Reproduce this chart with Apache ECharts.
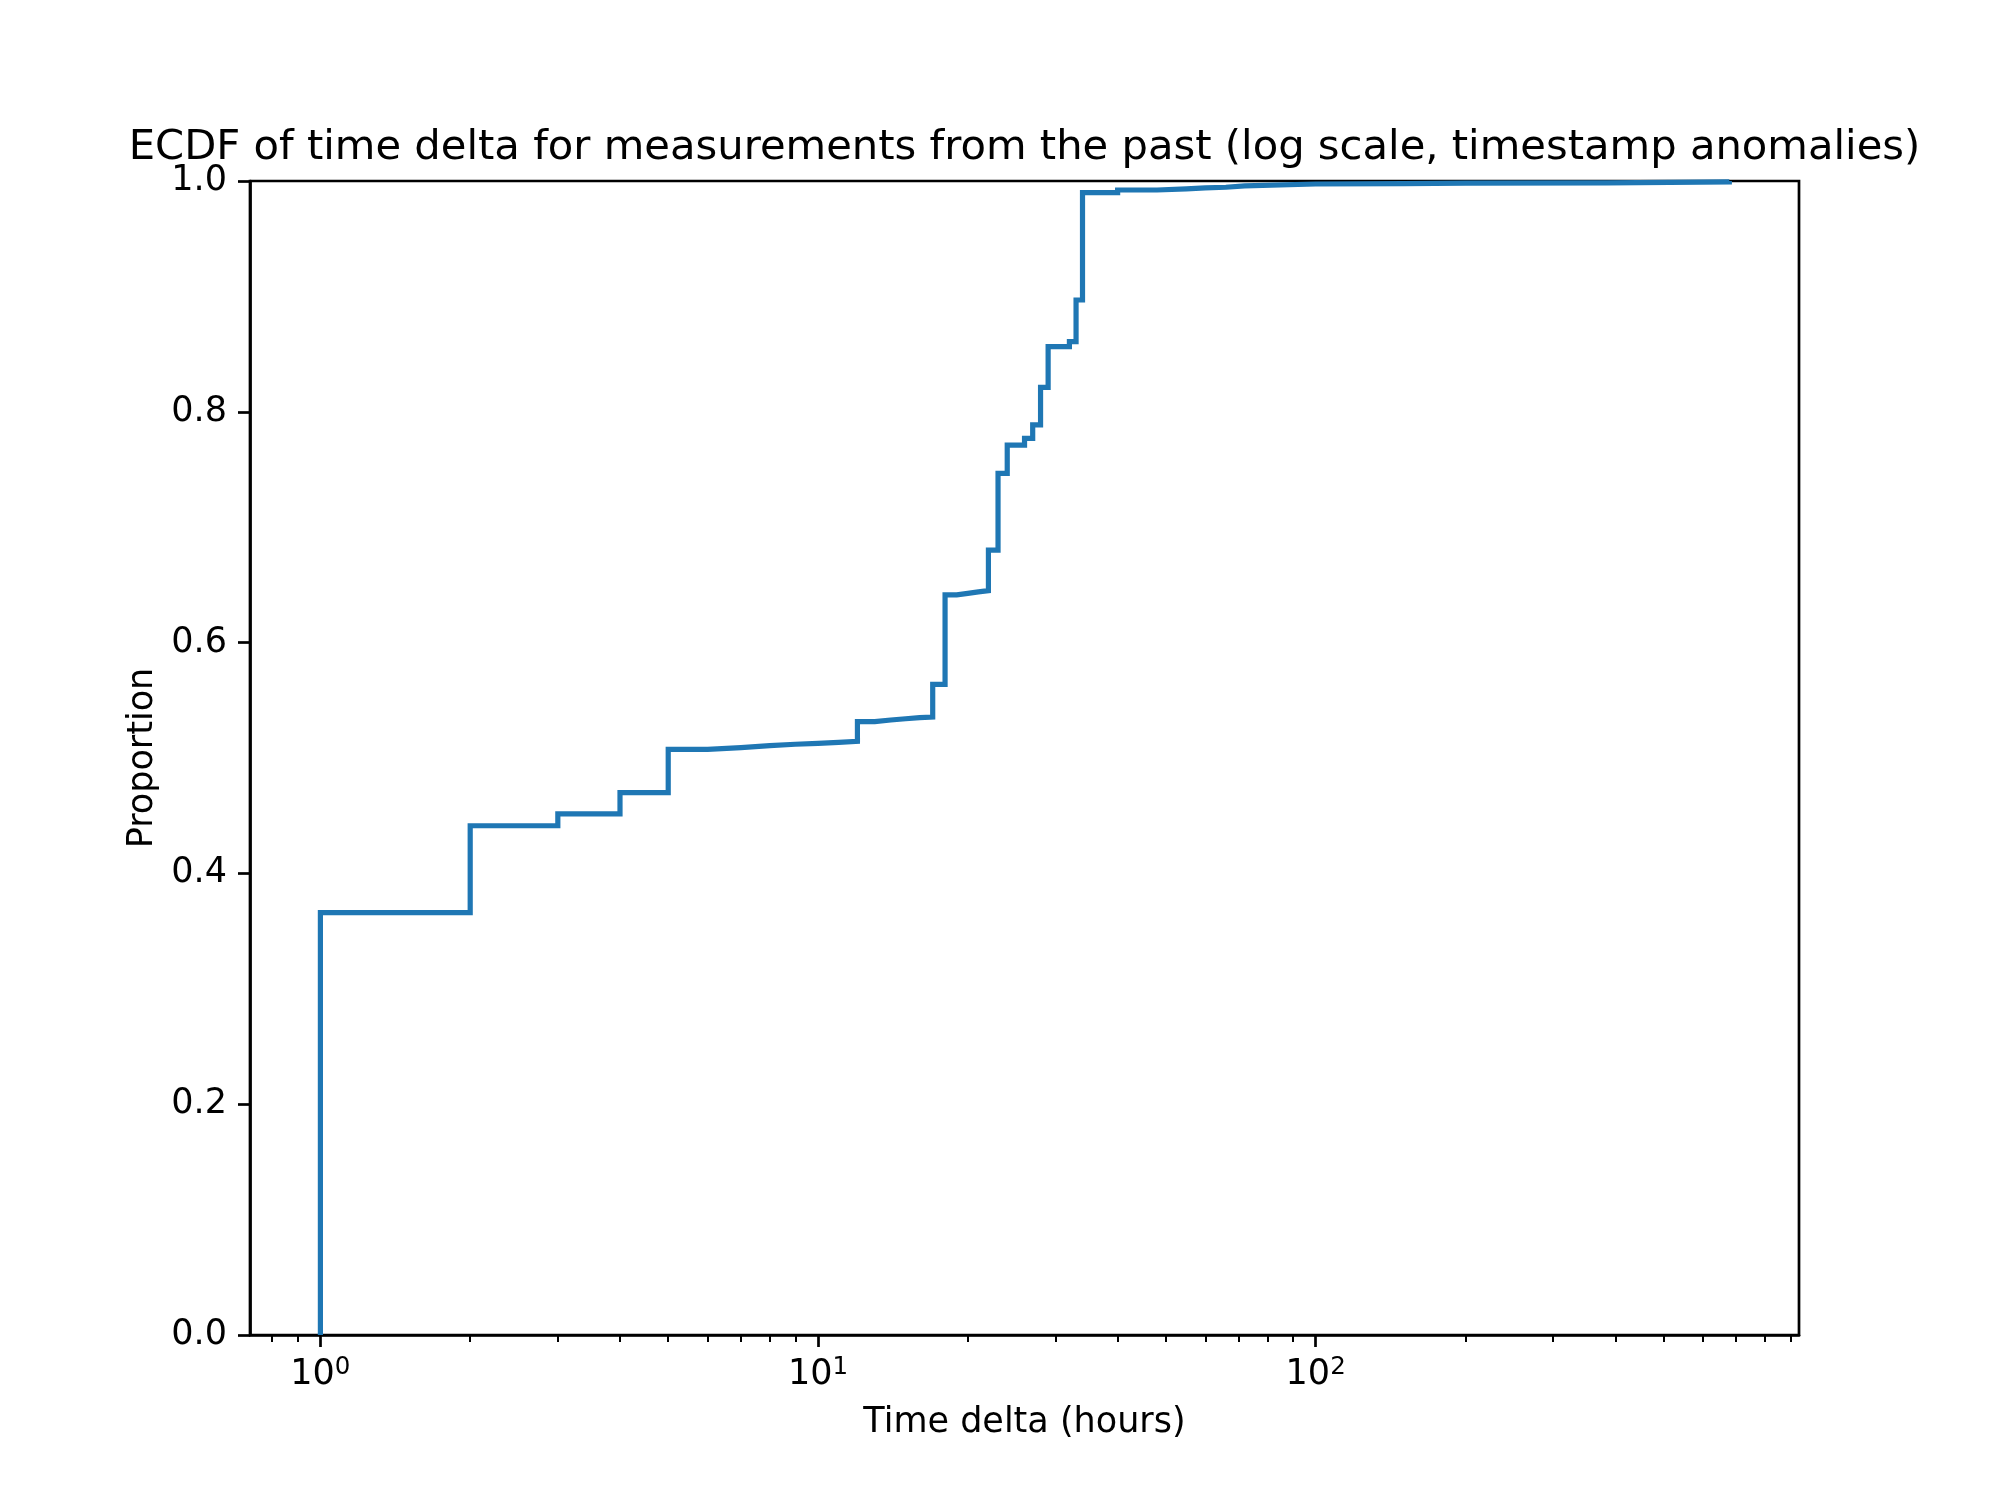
<!DOCTYPE html>
<html>
<head>
<meta charset="utf-8">
<script src="https://cdn.jsdelivr.net/npm/echarts@6/dist/echarts.min.js"></script>
<style>
  html, body { margin: 0; padding: 0; background: #ffffff; }
  #chart { width: 1999px; height: 1500px; }
</style>
</head>
<body>
<div id="chart"></div>
<script>
// ECDF step points: time delta (hours) and cumulative proportion
const timeDeltaHours = [1, 1, 2, 3, 4, 5, 6, 7, 8, 9, 10, 11, 12, 13, 14, 15, 16, 17, 18, 19, 20, 21, 22, 23, 24, 26, 27, 28, 29, 32, 33, 34, 40, 48, 55, 60, 66, 72, 100, 150, 200, 386, 678];
const proportion = [0, 0.366, 0.4413, 0.4515, 0.470, 0.5075, 0.509, 0.5107, 0.5119, 0.5127, 0.5136, 0.5144, 0.5315, 0.5329, 0.534, 0.535, 0.5355, 0.5638, 0.6413, 0.6427, 0.644, 0.645, 0.6802, 0.7467, 0.7712, 0.777, 0.7886, 0.8212, 0.8564, 0.8608, 0.8969, 0.9899, 0.9922, 0.9932, 0.9940, 0.9946, 0.9957, 0.9974, 0.9978, 0.9981, 0.9984, 0.9993, 1.0];

const xMajorTicks = [1, 10, 100];
const xMinorTicks = [0.8, 0.9, 2, 3, 4, 5, 6, 7, 8, 9, 20, 30, 40, 50, 60, 70, 80, 90, 200, 300, 400, 500, 600, 700, 800, 900];
const yTicks = [0, 0.2, 0.4, 0.6, 0.8, 1.0];
const xRange = [0.722, 936];

const titleText = 'ECDF of time delta for measurements from the past (log scale, timestamp anomalies)';
const xAxisTitle = 'Time delta (hours)';
const yAxisTitle = 'Proportion';

const FONT = 'DejaVu Sans';
const data = timeDeltaHours.map((x, i) => [x, proportion[i]]);

const chart = echarts.init(document.getElementById('chart'), null, { renderer: 'canvas' });
chart.setOption({
  backgroundColor: '#ffffff',
  animation: false,
  title: {
    text: titleText,
    left: 1024.5,
    top: 127,
    padding: 0,
    textAlign: 'center',
    textStyle: { fontFamily: FONT, fontSize: 41.7, fontWeight: 'normal', color: '#000' }
  },
  grid: {
    left: 250, right: 200, top: 181, bottom: 165,
    show: true, borderColor: '#000', borderWidth: 2.7, backgroundColor: 'transparent',
    containLabel: false
  },
  xAxis: [
    {
      type: 'log', logBase: 10, min: xRange[0], max: xRange[1],
      name: xAxisTitle, nameLocation: 'middle', nameGap: 70,
      nameTextStyle: { fontFamily: FONT, fontSize: 35, color: '#000' },
      axisLine: { show: true, lineStyle: { color: '#000', width: 2.7 } },
      axisTick: { show: true, customValues: xMajorTicks, length: 12, lineStyle: { color: '#000', width: 2.7 } },
      axisLabel: {
        show: true, customValues: xMajorTicks, margin: 20,
        formatter: function (v) { return '{base|10}{sup|' + Math.round(Math.log10(v)) + '}'; },
        rich: {
          base: { fontFamily: FONT, fontSize: 35, color: '#000', lineHeight: 40 },
          sup: { fontFamily: FONT, fontSize: 24.5, color: '#000', lineHeight: 22, verticalAlign: 'top' }
        }
      },
      splitLine: { show: false }
    },
    {
      type: 'log', logBase: 10, min: xRange[0], max: xRange[1], position: 'bottom',
      axisLine: { show: false },
      axisTick: { show: true, customValues: xMinorTicks, length: 7, lineStyle: { color: '#000', width: 2 } },
      axisLabel: { show: false },
      splitLine: { show: false }
    }
  ],
  yAxis: {
    type: 'value', min: 0, max: 1, interval: 0.2,
    name: yAxisTitle, nameLocation: 'middle', nameGap: 88,
    nameTextStyle: { fontFamily: FONT, fontSize: 35, color: '#000' },
    axisLine: { show: true, lineStyle: { color: '#000', width: 2.7 } },
    axisTick: { show: true, length: 12, lineStyle: { color: '#000', width: 2.7 } },
    axisLabel: {
      customValues: yTicks,
      margin: 23, fontFamily: FONT, fontSize: 35, color: '#000',
      formatter: function (v) { return v.toFixed(1); }
    },
    splitLine: { show: false }
  },
  series: [{
    type: 'line',
    xAxisIndex: 0,
    step: 'end',
    showSymbol: false,
    symbol: 'none',
    lineStyle: { color: '#1f77b4', width: 5.2, cap: 'butt', join: 'miter' },
    data: data
  }]
});
</script>
</body>
</html>
